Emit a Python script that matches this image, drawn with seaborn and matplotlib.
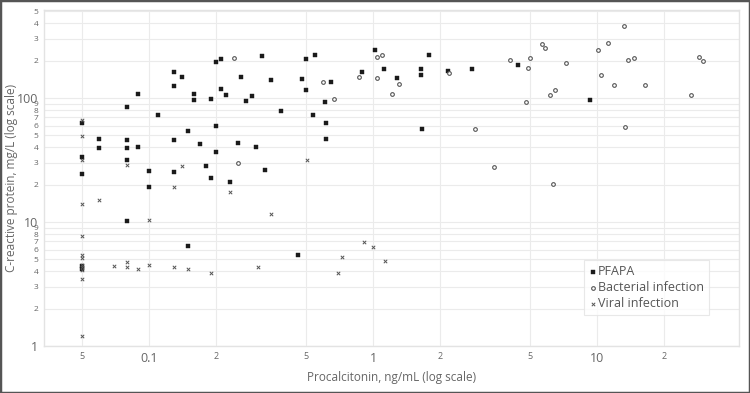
import numpy as np
import pandas as pd
import matplotlib
matplotlib.use("Agg")
import matplotlib.pyplot as plt
import seaborn as sns
from matplotlib.patches import Rectangle
from matplotlib.ticker import FixedLocator, FixedFormatter, NullLocator

# ---- data ----
pfapa_x = [0.05, 0.05, 0.05, 0.05, 0.05,
           0.06, 0.06,
           0.08, 0.08, 0.08, 0.08, 0.08,
           0.089, 0.089,
           0.1, 0.1,
           0.11,
           0.129, 0.129, 0.129, 0.129,
           0.14,
           0.149, 0.149,
           0.159, 0.159,
           0.169, 0.179,
           0.189, 0.189,
           0.2, 0.2, 0.2,
           0.209, 0.21, 0.22,
           0.229, 0.249, 0.258,
           0.27, 0.289, 0.3,
           0.319, 0.329, 0.351, 0.388,
           0.461,
           0.481, 0.5, 0.5, 0.54, 0.551,
           0.608, 0.617, 0.617, 0.647,
           0.891, 1.02, 1.12, 1.28,
           1.64, 1.64, 1.66, 1.78,
           2.16, 2.76, 4.44, 9.3]
pfapa_y = [63, 33.5, 24.5, 4.4, 4.2,
           46.4, 39.7,
           85, 45.8, 39.7, 31.4, 10.2,
           107, 40.5,
           25.6, 19.3,
           73,
           162, 126, 45.8, 25.1,
           149,
           54.5, 6.4,
           108, 96,
           42.6, 28.5,
           97.6, 22.8,
           195, 59, 36.7,
           207, 118, 106,
           20.9, 43.6, 147,
           95, 103, 40.3,
           218, 26.1, 139, 79,
           5.39,
           143, 207, 117, 73, 221,
           92, 63, 47, 135,
           163, 243, 172, 145,
           171, 152, 56, 222,
           164, 170, 186, 96]

bact_x = [0.239, 0.249, 0.6, 0.67, 0.869, 1.04, 1.1, 1.04, 1.31, 1.21,
          2.18, 2.85, 3.46, 4.08, 5.02, 4.92, 4.82, 5.7, 5.85, 6.19,
          6.47, 6.37, 7.28, 10.1, 10.4, 11.2, 11.9, 13.2, 13.4, 13.8,
          14.7, 16.4, 26.3, 28.6, 29.7]
bact_y = [210, 29.9, 135, 98.7, 148, 215, 222, 144, 130, 107,
          160, 56, 27.6, 203, 211, 174, 93, 274, 252, 105,
          116, 20.4, 190, 245, 154, 278, 128, 383, 58, 202,
          211, 128, 105, 213, 199]

viral_x = [0.05, 0.05, 0.05, 0.05, 0.05, 0.05, 0.05, 0.05, 0.05, 0.05, 0.05, 0.05,
           0.06, 0.0695, 0.0795, 0.0795, 0.0795, 0.0893, 0.0997, 0.0997,
           0.129, 0.129, 0.14, 0.149, 0.189, 0.229, 0.307, 0.349, 0.509,
           0.698, 0.73, 0.909, 1.0, 1.13]
viral_y = [66, 49, 31.4, 13.9, 7.76, 5.45, 5.1, 4.5, 4.3, 4.1, 3.49, 1.2,
           15.1, 4.42, 28.7, 4.73, 4.31, 4.2, 10.3, 4.5,
           19.3, 4.31, 28.1, 4.2, 3.9, 17.3, 4.31, 11.7, 31.4,
           3.9, 5.22, 6.94, 6.32, 4.82]

x_ticks = [0.05, 0.1, 0.2, 0.5, 1, 2, 5, 10, 20]
x_ticklabels = ["5", "0.1", "2", "5", "1", "2", "5", "10", "2"]
y_ticks = [1, 2, 3, 4, 5, 6, 7, 8, 9, 10, 20, 30, 40, 50, 60, 70, 80, 90,
           100, 200, 300, 400, 500]
y_ticklabels = ["1", "2", "3", "4", "5", "6", "7", "8", "9", "10",
                "2", "3", "4", "5", "6", "7", "8", "9", "100",
                "2", "3", "4", "5"]
major_labels = {0.1, 1, 10, 100}

df = pd.concat([
    pd.DataFrame({"pct": pfapa_x, "crp": pfapa_y, "group": "PFAPA"}),
    pd.DataFrame({"pct": bact_x, "crp": bact_y, "group": "Bacterial infection"}),
    pd.DataFrame({"pct": viral_x, "crp": viral_y, "group": "Viral infection"}),
], ignore_index=True)

# ---- figure ----
sns.set_style("white")
plt.rcParams["font.family"] = ["Open Sans", "DejaVu Sans"]

fig = plt.figure(figsize=(7.5, 3.93), dpi=100)
ax = fig.add_axes([44 / 750, 47 / 393, (739 - 44) / 750, 336 / 393])

sns.scatterplot(data=df[df.group == "PFAPA"], x="pct", y="crp", ax=ax,
                marker="s", s=9, color="#1a1a1a", edgecolor="#1a1a1a",
                linewidth=0.3, label="PFAPA", zorder=3)
sns.scatterplot(data=df[df.group == "Bacterial infection"], x="pct", y="crp", ax=ax,
                marker="o", s=7, facecolor="white", edgecolor="#555555",
                linewidth=0.8, label="Bacterial infection", zorder=3)
sns.scatterplot(data=df[df.group == "Viral infection"], x="pct", y="crp", ax=ax,
                marker="x", s=6, color="#555555", linewidth=0.7,
                label="Viral infection", zorder=3)

ax.set_xscale("log")
ax.set_yscale("log")
ax.set_xlim(10 ** (-1 - 105 / 224), 10 ** (-1 + 590 / 224))
ax.set_ylim(1, 10 ** (336 / 124))

ax.xaxis.set_major_locator(FixedLocator(x_ticks))
ax.xaxis.set_major_formatter(FixedFormatter(x_ticklabels))
ax.xaxis.set_minor_locator(NullLocator())
ax.yaxis.set_major_locator(FixedLocator(y_ticks))
ax.yaxis.set_major_formatter(FixedFormatter(y_ticklabels))
ax.yaxis.set_minor_locator(NullLocator())

ax.grid(True, which="major", color="#ebebeb", linewidth=0.8)
ax.set_axisbelow(True)
for s in ax.spines.values():
    s.set_color("#e3e3e3")
    s.set_linewidth(1.0)

ax.tick_params(axis="both", length=0, pad=4, colors="#666666")
for val, lab in zip(x_ticks, ax.get_xticklabels()):
    lab.set_fontsize(9 if val in major_labels else 6.5)
    lab.set_color("#666666")
for val, lab in zip(y_ticks, ax.get_yticklabels()):
    lab.set_fontsize(9 if val in major_labels else 6)
    lab.set_color("#666666")

ax.set_xlabel("Procalcitonin, ng/mL (log scale)", fontsize=8.5, color="#666666")
ax.xaxis.set_label_coords(0.5, -25 / 336)
ax.set_ylabel("C-reactive protein, mg/L (log scale)", fontsize=8.5, color="#666666")
ax.yaxis.set_label_coords(-26 / 695, 0.5)

leg = ax.legend(loc="lower right", bbox_to_anchor=(0.957, 0.092), frameon=True,
                fancybox=False, fontsize=9, handletextpad=0.1, borderpad=0.4,
                labelspacing=0.25, handlelength=0.6, markerscale=1.0,
                borderaxespad=0)
leg.get_frame().set_edgecolor("#e3e3e3")
leg.get_frame().set_linewidth(0.8)
for t in leg.get_texts():
    t.set_color("#555555")

fig.patches.append(Rectangle((0, 0), 1, 1, transform=fig.transFigure, fill=False,
                             edgecolor="#555555", linewidth=2.5, zorder=10))

fig.savefig("out.png", dpi=100)
